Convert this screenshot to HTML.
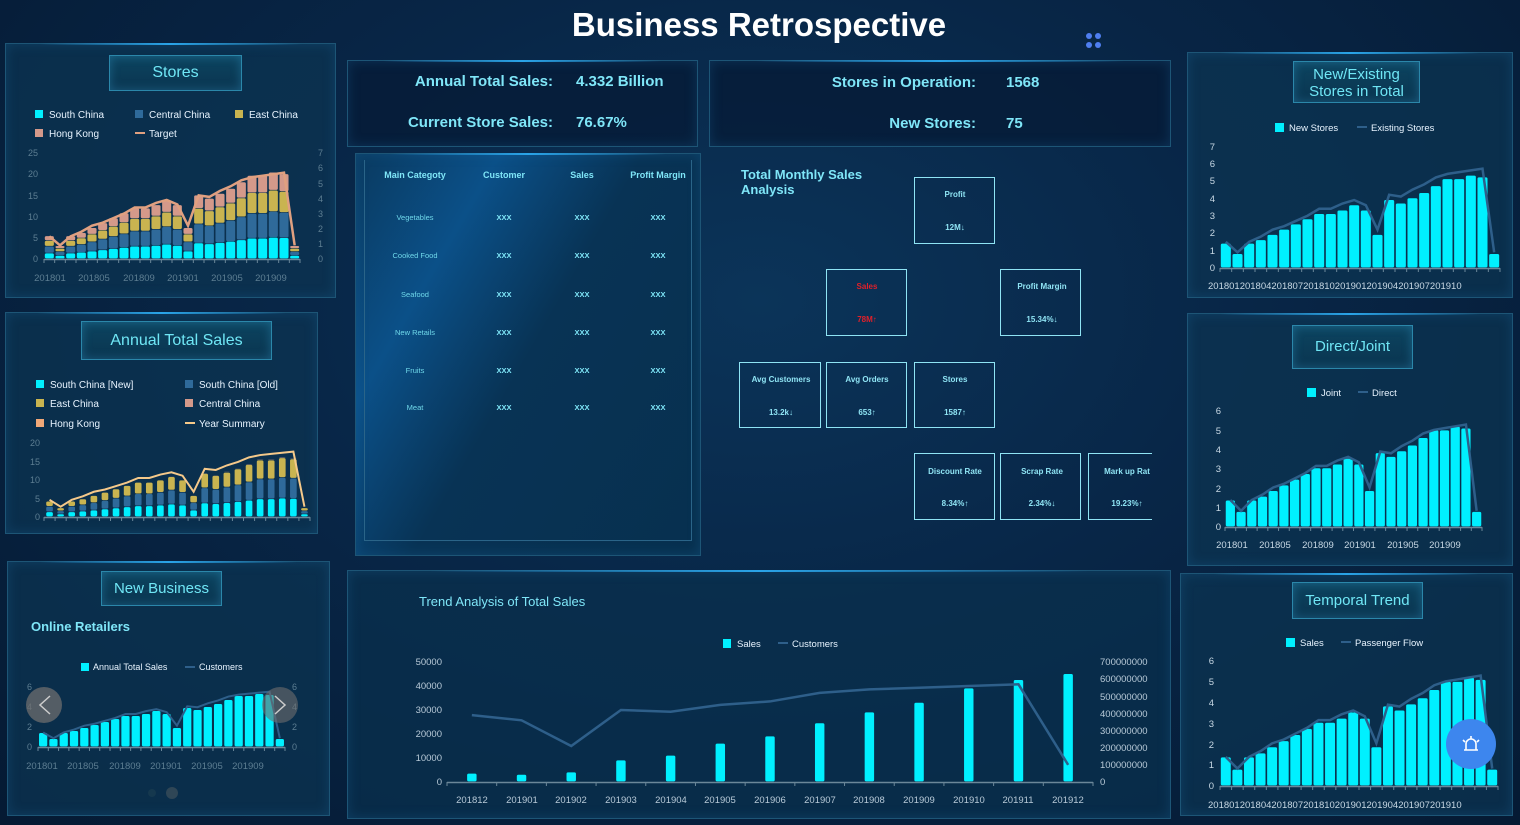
<!DOCTYPE html>
<html><head><meta charset="utf-8"><style>
html,body{margin:0;padding:0;width:1520px;height:825px;overflow:hidden;background:#061a33;font-family:"Liberation Sans",sans-serif}
#bg{position:absolute;left:0;top:0;width:1520px;height:825px;background:radial-gradient(ellipse at 760px 300px,#0b3459 0%,#082647 45%,#051a33 100%)}
.p{position:absolute;background:rgba(12,52,82,.75);border:1px solid #1d5576;box-shadow:inset 0 0 12px rgba(30,120,180,.25)}
.p:before{content:"";position:absolute;left:10%;right:10%;top:-1px;height:2px;background:linear-gradient(90deg,transparent,#2aa4e8,transparent)}
.tb{position:absolute;border:1px solid #2b87aa;background:linear-gradient(180deg,#0c4460,#0a3550);color:#6fe6f5;font-size:16px;text-align:center;box-shadow:inset 0 0 10px rgba(60,170,220,.35)}
svg{position:absolute;left:0;top:0}
</style></head><body>
<div id="bg"></div>
<div class="p" style="left:5px;top:43px;width:329px;height:253px"></div>
<div class="p" style="left:5px;top:312px;width:311px;height:220px"></div>
<div class="p" style="left:7px;top:561px;width:321px;height:253px"></div>
<div class="p" style="left:347px;top:60px;width:349px;height:85px;background:rgba(6,28,55,.8)"></div>
<div class="p" style="left:709px;top:60px;width:460px;height:85px;background:rgba(6,28,55,.8)"></div>
<div class="p" style="left:355px;top:153px;width:344px;height:401px;background:linear-gradient(120deg,#0a3a60 0%,#0b5088 25%,#083355 50%,#07304f 100%)"></div>
<div style="position:absolute;left:364px;top:160px;width:326px;height:380px;border:1px solid #2a6488;border-top:none"></div>
<div class="p" style="left:347px;top:570px;width:822px;height:247px;background:rgba(10,48,78,.75)"></div>
<div class="p" style="left:1187px;top:52px;width:324px;height:244px"></div>
<div class="p" style="left:1187px;top:313px;width:324px;height:251px"></div>
<div class="p" style="left:1180px;top:573px;width:331px;height:241px"></div>

<div class="tb" style="left:109px;top:55px;width:131px;height:34px;line-height:34px">Stores</div>
<div class="tb" style="left:81px;top:321px;width:189px;height:37px;line-height:37px">Annual Total Sales</div>
<div class="tb" style="left:101px;top:571px;width:119px;height:33px;line-height:33px;font-size:15px">New Business</div>
<div class="tb" style="left:1293px;top:61px;width:127px;height:42px;line-height:17px;font-size:15px;padding-top:4px;box-sizing:border-box">New/Existing<br>Stores in Total</div>
<div class="tb" style="left:1292px;top:325px;width:119px;height:42px;line-height:42px;font-size:15px">Direct/Joint</div>
<div class="tb" style="left:1292px;top:582px;width:129px;height:35px;line-height:35px;font-size:15px">Temporal Trend</div>

<svg width="1520" height="825" font-family="Liberation Sans, sans-serif">
<text x="759" y="36" text-anchor="middle" fill="#fff" font-size="33" font-weight="bold">Business Retrospective</text>
<g fill="#4f7ef0"><circle cx="1089" cy="36" r="3"/><circle cx="1098" cy="36" r="3"/><circle cx="1089" cy="45" r="3"/><circle cx="1098" cy="45" r="3"/></g>

<g fill="#7fe6f8" font-size="15" font-weight="bold">
<text x="553" y="86" text-anchor="end">Annual Total Sales:</text><text x="576" y="86">4.332 Billion</text>
<text x="553" y="127" text-anchor="end">Current Store Sales:</text><text x="576" y="127">76.67%</text>
<text x="976" y="87" text-anchor="end">Stores in Operation:</text><text x="1006" y="87">1568</text>
<text x="976" y="128" text-anchor="end">New Stores:</text><text x="1006" y="128">75</text>
</g>

<g fill="#7fe6f8" font-size="9" font-weight="bold" text-anchor="middle">
<text x="415" y="178">Main Categoty</text><text x="504" y="178">Customer</text><text x="582" y="178">Sales</text><text x="658" y="178">Profit Margin</text>
</g>
<g fill="#6fd8ea" font-size="7.5" text-anchor="middle">
<text x="415" y="220">Vegetables</text><text x="415" y="258">Cooked Food</text><text x="415" y="297">Seafood</text><text x="415" y="335">New Retails</text><text x="415" y="373">Fruits</text><text x="415" y="410">Meat</text>
</g>
<g fill="#7fe6f8" font-size="7.5" font-weight="bold" text-anchor="middle">
<text x="504" y="220">XXX</text><text x="582" y="220">XXX</text><text x="658" y="220">XXX</text>
<text x="504" y="258">XXX</text><text x="582" y="258">XXX</text><text x="658" y="258">XXX</text>
<text x="504" y="297">XXX</text><text x="582" y="297">XXX</text><text x="658" y="297">XXX</text>
<text x="504" y="335">XXX</text><text x="582" y="335">XXX</text><text x="658" y="335">XXX</text>
<text x="504" y="373">XXX</text><text x="582" y="373">XXX</text><text x="658" y="373">XXX</text>
<text x="504" y="410">XXX</text><text x="582" y="410">XXX</text><text x="658" y="410">XXX</text>
</g>

<text x="741" y="179" fill="#7fe6f8" font-size="13" font-weight="bold">Total Monthly Sales</text>
<text x="741" y="194" fill="#7fe6f8" font-size="13" font-weight="bold">Analysis</text>
<g fill="none" stroke="#8fe4f4" stroke-width="1">
<rect x="914.5" y="177.5" width="80" height="66"/>
<rect x="826.5" y="269.5" width="80" height="66"/><rect x="1000.5" y="269.5" width="80" height="66"/>
<rect x="739.5" y="362.5" width="81" height="65"/><rect x="826.5" y="362.5" width="80" height="65"/><rect x="914.5" y="362.5" width="80" height="65"/>
<rect x="914.5" y="453.5" width="80" height="66"/><rect x="1000.5" y="453.5" width="80" height="66"/><path d="M1152 453.5H1088.5V519.5H1152"/>
</g>
<g fill="#8fe4f4" font-size="8" font-weight="bold" text-anchor="middle">
<text x="955" y="197">Profit</text><text x="955" y="230">12M↓</text>
<text x="867" y="289" fill="#e0202a">Sales</text><text x="867" y="322" fill="#e0202a">78M↑</text>
<text x="1042" y="289">Profit Margin</text><text x="1042" y="322">15.34%↓</text>
<text x="781" y="382">Avg Customers</text><text x="781" y="415">13.2k↓</text>
<text x="867" y="382">Avg Orders</text><text x="867" y="415">653↑</text>
<text x="955" y="382">Stores</text><text x="955" y="415">1587↑</text>
<text x="955" y="474">Discount Rate</text><text x="955" y="506">8.34%↑</text>
<text x="1042" y="474">Scrap Rate</text><text x="1042" y="506">2.34%↓</text>
<text x="1127" y="474">Mark up Rat</text><text x="1127" y="506">19.23%↑</text>
</g>

<g id="shapes"></g>

<g font-size="10" fill="#e8f4ff">
<rect x="35" y="110" width="8" height="8" fill="#00f0ff"/><text x="49" y="118">South China</text>
<rect x="135" y="110" width="8" height="8" fill="#2f6a9a"/><text x="149" y="118">Central China</text>
<rect x="235" y="110" width="8" height="8" fill="#c9b450"/><text x="249" y="118">East China</text>
<rect x="35" y="129" width="8" height="8" fill="#d4998a"/><text x="49" y="137">Hong Kong</text>
<rect x="135" y="132" width="10" height="2" fill="#e0a080"/><text x="149" y="137">Target</text>
</g>
<g font-size="9" fill="#5d7e92" text-anchor="end">
<text x="38" y="262">0</text><text x="38" y="241">5</text><text x="38" y="220">10</text><text x="38" y="199">15</text><text x="38" y="177">20</text><text x="38" y="156">25</text>
</g>
<g font-size="9" fill="#5d7e92">
<text x="318" y="262">0</text><text x="318" y="247">1</text><text x="318" y="232">2</text><text x="318" y="217">3</text><text x="318" y="202">4</text><text x="318" y="187">5</text><text x="318" y="171">6</text><text x="318" y="156">7</text>
</g>
<g font-size="9.5" fill="#5d7e92" text-anchor="middle">
<text x="50" y="281">201801</text><text x="94" y="281">201805</text><text x="139" y="281">201809</text><text x="183" y="281">201901</text><text x="227" y="281">201905</text><text x="271" y="281">201909</text>
</g>

<g font-size="10" fill="#e8f4ff">
<rect x="36" y="380" width="8" height="8" fill="#00f0ff"/><text x="50" y="388">South China [New]</text>
<rect x="185" y="380" width="8" height="8" fill="#2f6a9a"/><text x="199" y="388">South China [Old]</text>
<rect x="36" y="399" width="8" height="8" fill="#c9b450"/><text x="50" y="407">East China</text>
<rect x="185" y="399" width="8" height="8" fill="#d4998a"/><text x="199" y="407">Central China</text>
<rect x="36" y="419" width="8" height="8" fill="#f0a878"/><text x="50" y="427">Hong Kong</text>
<rect x="185" y="422" width="10" height="2" fill="#f5c98a"/><text x="199" y="427">Year Summary</text>
</g>
<g font-size="9" fill="#5d7e92" text-anchor="end">
<text x="40" y="520">0</text><text x="40" y="502">5</text><text x="40" y="483">10</text><text x="40" y="465">15</text><text x="40" y="446">20</text>
</g>

<text x="31" y="631" fill="#7fe6f8" font-size="13" font-weight="bold">Online Retailers</text>
<g font-size="9" fill="#e8f4ff"><rect x="81" y="663" width="8" height="8" fill="#00f0ff"/><text x="93" y="670">Annual Total Sales</text>
<rect x="185" y="666" width="10" height="2" fill="#2e5f8a"/><text x="199" y="670">Customers</text></g>
<g font-size="9" fill="#5d7e92" text-anchor="end"><text x="32" y="750">0</text><text x="32" y="730">2</text><text x="32" y="710">4</text><text x="32" y="690">6</text></g>
<g font-size="9" fill="#5d7e92"><text x="292" y="750">0</text><text x="292" y="730">2</text><text x="292" y="710">4</text><text x="292" y="690">6</text></g>
<g font-size="9.5" fill="#5d7e92" text-anchor="middle">
<text x="42" y="769">201801</text><text x="83" y="769">201805</text><text x="125" y="769">201809</text><text x="166" y="769">201901</text><text x="207" y="769">201905</text><text x="248" y="769">201909</text>
</g>

<text x="419" y="606" fill="#7fe6f8" font-size="13">Trend Analysis of Total Sales</text>
<g font-size="9.5" fill="#e8f4ff"><rect x="723" y="639" width="8" height="9" fill="#00f0ff"/><text x="737" y="647">Sales</text>
<rect x="778" y="642" width="10" height="2" fill="#2e5f8a"/><text x="792" y="647">Customers</text></g>
<g font-size="9.5" fill="#b8cad8" text-anchor="end">
<text x="442" y="785">0</text><text x="442" y="761">10000</text><text x="442" y="737">20000</text><text x="442" y="713">30000</text><text x="442" y="689">40000</text><text x="442" y="665">50000</text>
</g>
<g font-size="9.5" fill="#b8cad8">
<text x="1100" y="785">0</text><text x="1100" y="768">100000000</text><text x="1100" y="751">200000000</text><text x="1100" y="734">300000000</text><text x="1100" y="717">400000000</text><text x="1100" y="700">500000000</text><text x="1100" y="682">600000000</text><text x="1100" y="665">700000000</text>
</g>
<g font-size="9.5" fill="#b8cad8" text-anchor="middle">
<text x="472" y="803">201812</text><text x="522" y="803">201901</text><text x="571" y="803">201902</text><text x="621" y="803">201903</text><text x="671" y="803">201904</text><text x="720" y="803">201905</text><text x="770" y="803">201906</text><text x="820" y="803">201907</text><text x="869" y="803">201908</text><text x="919" y="803">201909</text><text x="969" y="803">201910</text><text x="1018" y="803">201911</text><text x="1068" y="803">201912</text>
</g>

<g font-size="9.5" fill="#e8f4ff">
<rect x="1275" y="123" width="9" height="9" fill="#00f0ff"/><text x="1289" y="131">New Stores</text>
<rect x="1357" y="126" width="10" height="2" fill="#2e5f8a"/><text x="1371" y="131">Existing Stores</text>
<rect x="1307" y="388" width="9" height="9" fill="#00f0ff"/><text x="1321" y="396">Joint</text>
<rect x="1358" y="391" width="10" height="2" fill="#2e5f8a"/><text x="1372" y="396">Direct</text>
<rect x="1286" y="638" width="9" height="9" fill="#00f0ff"/><text x="1300" y="646">Sales</text>
<rect x="1341" y="641" width="10" height="2" fill="#2e5f8a"/><text x="1355" y="646">Passenger Flow</text>
</g>
<g font-size="9.5" fill="#c8d8e4" text-anchor="end">
<text x="1215" y="271">0</text><text x="1215" y="254">1</text><text x="1215" y="236">2</text><text x="1215" y="219">3</text><text x="1215" y="202">4</text><text x="1215" y="184">5</text><text x="1215" y="167">6</text><text x="1215" y="150">7</text>
<text x="1221" y="530">0</text><text x="1221" y="511">1</text><text x="1221" y="492">2</text><text x="1221" y="472">3</text><text x="1221" y="453">4</text><text x="1221" y="434">5</text><text x="1221" y="414">6</text>
<text x="1214" y="789">0</text><text x="1214" y="768">1</text><text x="1214" y="748">2</text><text x="1214" y="727">3</text><text x="1214" y="706">4</text><text x="1214" y="685">5</text><text x="1214" y="664">6</text>
</g>
<g font-size="9.5" fill="#c8d8e4">
<text x="1208" y="289">201801201804201807201810201901201904201907201910</text>
<text x="1208" y="808">201801201804201807201810201901201904201907201910</text>
</g>
<g font-size="9.5" fill="#c8d8e4" text-anchor="middle">
<text x="1232" y="548">201801</text><text x="1275" y="548">201805</text><text x="1318" y="548">201809</text><text x="1360" y="548">201901</text><text x="1403" y="548">201905</text><text x="1445" y="548">201909</text>
</g>

<circle cx="44" cy="705" r="18" fill="rgba(110,110,110,.75)"/><path d="M50 696L40 705L50 714" stroke="#ccc" stroke-width="1.5" fill="none"/>
<circle cx="280" cy="705" r="18" fill="rgba(110,110,110,.6)"/><path d="M275 696L285 705L275 714" stroke="#ccc" stroke-width="1.5" fill="none"/>
<circle cx="152" cy="793" r="4" fill="#15384e"/><circle cx="172" cy="793" r="6" fill="#2f4656"/>
<circle cx="1471" cy="744" r="25" fill="#3d86ee"/>
<path d="M1464 750h14M1466 750v-6a5 5 0 0 1 10 0v6M1471 736v3M1463 740l2 2M1479 740l-2 2" stroke="#fff" stroke-width="1.6" fill="none"/>
</svg>
<script>
var NS="http://www.w3.org/2000/svg",G=document.getElementById("shapes");
function el(t,a){var e=document.createElementNS(NS,t);for(var k in a)e.setAttribute(k,a[k]);G.appendChild(e);return e;}
var S=[1.4,0.8,1.4,1.6,1.9,2.2,2.5,2.8,3.1,3.1,3.3,3.6,3.3,1.9,3.9,3.7,4.0,4.3,4.7,5.1,5.1,5.3,5.2,0.8];
var L=[1.5,0.9,1.5,1.8,2.2,2.4,2.7,3.0,3.4,3.4,3.7,3.9,3.6,2.2,4.2,4.1,4.5,4.8,5.2,5.4,5.5,5.6,5.7,0.9];
function axis(x0,x1,y0,n){el("line",{x1:x0,x2:x1,y1:y0+.5,y2:y0+.5,stroke:"#6b8799","stroke-width":1.5});var w=(x1-x0)/n;for(var i=0;i<=n;i++)el("line",{x1:x0+i*w,x2:x0+i*w,y1:y0,y2:y0+4,stroke:"#6b8799"});}
function stack(x0,x1,y0,yT,max,arrs,cols,fr){var n=arrs[0].length,w=(x1-x0)/n,k=(y0-yT)/max;for(var i=0;i<n;i++){var b=y0;for(var j=0;j<arrs.length;j++){var h=arrs[j][i]*k;el("rect",{x:x0+i*w+w*(1-fr)/2,y:b-h,width:w*fr,height:Math.max(h-0.6,0),fill:cols[j],rx:1.5});b-=h;}}}
function line(x0,x1,y0,yT,max,v,c,sw){var n=v.length,w=(x1-x0)/n,k=(y0-yT)/max,p="";for(var i=0;i<n;i++)p+=(i?"L":"M")+(x0+i*w+w/2)+" "+(y0-v[i]*k);el("path",{d:p,stroke:c,"stroke-width":sw,fill:"none"});}
stack(44,300,259,153,25,[S.map(x=>x*.95),S.map(x=>x*1.15),S.map(x=>x*.95),S.map(x=>x*.8)],["#00f0ff","#2f6a9a","#c9b450","#d4998a"],.85);
line(44,300,259,153,7,L,"#e0a080",2.5);axis(44,300,259,24);
stack(44,310,517,443,20,[S.map(x=>x*.95),S.map(x=>x*1.05),S.map(x=>x*1.0),S.map(x=>x*.05)],["#00f0ff","#2f6a9a","#c9b450","#d4998a"],.6);
line(44,310,517,443,20,L.map(x=>x*3.1),"#f5c98a",2);axis(44,310,517,24);
stack(38,285,747,687,6,[S],["#00f0ff"],.8);line(38,285,747,687,6,L.map(x=>x*.97),"#2e5f8a",2);axis(38,285,747,24);
stack(1220,1500,268,146,7,[S],["#00f0ff"],.86);line(1220,1500,268,146,7,L,"#2e5f8a",2.5);axis(1220,1500,268,24);
stack(1225,1482,527,411,6,[S.map(x=>x*.98)],["#00f0ff"],.86);line(1225,1482,527,411,6,L.map(x=>x*.93),"#2e5f8a",2.5);axis(1225,1482,527,24);
stack(1220,1498,786,661,6,[S.map(x=>x*.98)],["#00f0ff"],.86);line(1220,1498,786,661,6,L.map(x=>x*.93),"#2e5f8a",2.5);axis(1220,1498,786,24);
var TS=[3.5,3,4,9,11,16,19,24.5,29,33,39,42.5,45],TC=[3.9,3.6,2.1,4.2,4.1,4.5,4.7,5.2,5.4,5.5,5.6,5.7,1.0];
stack(447,1093,782,662,50,[TS],["#00f0ff"],.19);line(447,1093,782,662,7,TC,"#2e5f8a",2.5);axis(447,1093,782,13);
</script>
</body></html>
